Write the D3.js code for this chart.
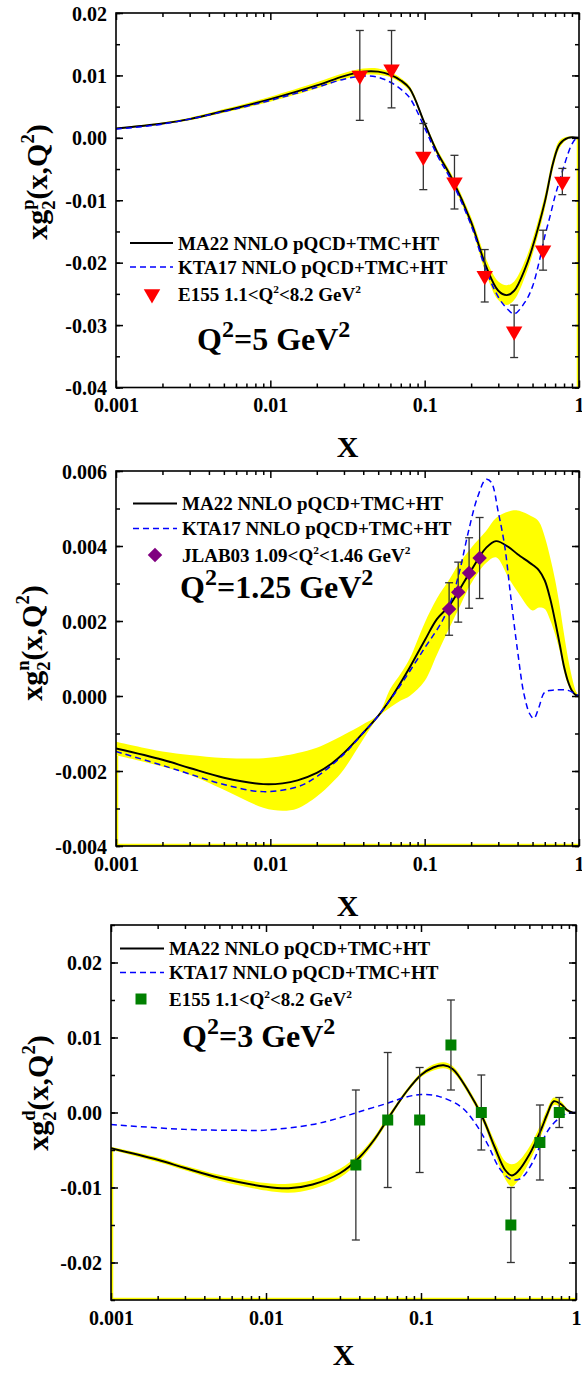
<!DOCTYPE html>
<html>
<head>
<meta charset="utf-8">
<title>xg2 of proton, neutron and deuteron</title>
<script src="https://cdn.jsdelivr.net/npm/d3@7"></script>
<style>
  body { margin: 0; background: #fff; }
  #chart svg { display: block; }
</style>
</head>
<body>
<div id="chart"></div>
<script>
// shared log x axis
const xTicks = [0.001, 0.01, 0.1, 1];
const xTickLabels = ["0.001", "0.01", "0.1", "1"];

// ---- proton, Q2 = 5 GeV2 ----
const pYTicks = [0.02, 0.01, 0, -0.01, -0.02, -0.03, -0.04];
const pYTickLabels = ["0.02", "0.01", "0.00", "-0.01", "-0.02", "-0.03", "-0.04"];
const pCurveX = [0.001, 0.002, 0.003, 0.005, 0.01, 0.02, 0.03, 0.04, 0.05, 0.06, 0.07, 0.08, 0.1, 0.12, 0.15, 0.2, 0.25, 0.3, 0.34, 0.38, 0.45, 0.5, 0.6, 0.68, 0.75, 0.85, 1.0];
const pMA22 = [0.0015, 0.0023, 0.0030, 0.0043, 0.0062, 0.0084, 0.0099, 0.0106, 0.0106, 0.0101, 0.0092, 0.0079, 0.0023, -0.0022, -0.0065, -0.0135, -0.0206, -0.0245, -0.0252, -0.0245, -0.0208, -0.0175, -0.0103, -0.0040, -0.0010, 0.0, 0.0];
const pBandLo = [0.0014, 0.00215, 0.0028, 0.0040, 0.0058, 0.0079, 0.0094, 0.0101, 0.0101, 0.0097, 0.0088, 0.0075, 0.0019, -0.0027, -0.0071, -0.0143, -0.0218, -0.0260, -0.0268, -0.0260, -0.0221, -0.0187, -0.0114, -0.0049, -0.0016, -0.0002, 0.0];
const pBandHi = [0.0016, 0.00245, 0.0032, 0.0046, 0.0066, 0.0089, 0.0104, 0.0111, 0.0111, 0.0105, 0.0096, 0.0083, 0.0027, -0.0017, -0.0059, -0.0127, -0.0194, -0.0230, -0.0236, -0.0230, -0.0195, -0.0163, -0.0092, -0.0031, -0.0004, 0.0002, 0.0];
const pKtaX = [0.001, 0.002, 0.005, 0.01, 0.02, 0.03, 0.04, 0.05, 0.06, 0.07, 0.08, 0.1, 0.12, 0.15, 0.2, 0.25, 0.3, 0.34, 0.38, 0.45, 0.5, 0.55, 0.6, 0.65, 0.7, 0.75, 0.8, 0.85, 0.9, 0.95, 1.0];
const pKTA17 = [0.0014, 0.0022, 0.0042, 0.0060, 0.0081, 0.0094, 0.0099, 0.0097, 0.0089, 0.0078, 0.0064, 0.0016, -0.0027, -0.0070, -0.0140, -0.0212, -0.0255, -0.0273, -0.0282, -0.0262, -0.0238, -0.0200, -0.0158, -0.0125, -0.0093, -0.0068, -0.0045, -0.0025, -0.0010, -0.0002, 0.0];
const pE155X = [0.038, 0.061, 0.098, 0.156, 0.245, 0.38, 0.585, 0.78];
const pE155Y = [0.0100, 0.0110, -0.0030, -0.0071, -0.0221, -0.0310, -0.0180, -0.0070];
const pE155Err = [0.0072, 0.0062, 0.0053, 0.0043, 0.0042, 0.0042, 0.0032, 0.0021];
const pSpill = [[1, 0, 1, -0.04]];

// ---- neutron, Q2 = 1.25 GeV2 ----
const nYTicks = [0.006, 0.004, 0.002, 0, -0.002, -0.004];
const nYTickLabels = ["0.006", "0.004", "0.002", "0.000", "-0.002", "-0.004"];
const nCurveX = [0.001, 0.002, 0.003, 0.005, 0.009, 0.012, 0.015, 0.02, 0.025, 0.03, 0.04, 0.05, 0.06, 0.07, 0.08, 0.1, 0.12, 0.144, 0.165, 0.2, 0.25, 0.29, 0.35, 0.4, 0.5, 0.55, 0.6, 0.65, 0.7, 0.75, 0.8, 0.85, 0.9, 0.95, 1.0];
const nMA22 = [-0.00140, -0.00170, -0.00192, -0.00218, -0.00235, -0.00233, -0.00225, -0.00205, -0.00180, -0.00152, -0.00098, -0.00053, -0.00008, 0.00036, 0.00076, 0.00148, 0.00205, 0.00240, 0.00278, 0.00335, 0.00395, 0.00413, 0.00397, 0.00378, 0.00350, 0.00335, 0.00308, 0.00260, 0.00200, 0.00138, 0.00078, 0.00038, 0.00014, 0.00003, 0.0];
const nBandLo = [-0.00158, -0.00188, -0.00210, -0.00250, -0.00298, -0.00306, -0.00300, -0.00268, -0.00232, -0.00195, -0.00115, -0.00057, -0.00030, -0.00012, 0.00000, 0.00040, 0.00110, 0.00180, 0.00230, 0.00300, 0.00355, 0.00370, 0.00315, 0.00278, 0.00228, 0.00236, 0.00232, 0.00203, 0.00165, 0.00120, 0.00065, 0.00030, 0.00010, 0.00002, 0.0];
const nBandHi = [-0.00122, -0.00148, -0.00157, -0.00165, -0.00166, -0.00160, -0.00152, -0.00138, -0.00120, -0.00103, -0.00075, -0.00049, 0.00020, 0.00060, 0.00100, 0.00195, 0.00260, 0.00310, 0.00350, 0.00395, 0.00440, 0.00475, 0.00492, 0.00495, 0.00478, 0.00465, 0.00425, 0.00370, 0.00310, 0.00240, 0.00165, 0.00100, 0.00050, 0.00015, 0.0];
const nKtaX = [0.001, 0.002, 0.003, 0.005, 0.009, 0.015, 0.02, 0.03, 0.04, 0.05, 0.07, 0.1, 0.13, 0.15, 0.17, 0.19, 0.22, 0.25, 0.27, 0.3, 0.33, 0.36, 0.4, 0.44, 0.48, 0.51, 0.55, 0.6, 0.7, 0.85, 0.95, 1.0];
const nKTA17 = [-0.00148, -0.00185, -0.00208, -0.00236, -0.00255, -0.00242, -0.00215, -0.00155, -0.00098, -0.00053, 0.00030, 0.00128, 0.00200, 0.00260, 0.00340, 0.00430, 0.00530, 0.00578, 0.00570, 0.00490, 0.00400, 0.00270, 0.00120, 0.00005, -0.00048, -0.00060, -0.00030, 0.00010, 0.00016, 0.00015, 0.00005, 0.0];
const nJlabX = [0.144, 0.165, 0.194, 0.227];
const nJlabY = [0.00232, 0.00277, 0.00328, 0.00368];
const nJlabErr = [0.0007, 0.0008, 0.00094, 0.00108];
const nSpill = [[0.001, -0.0016, 0.001, -0.004], [0.001, -0.004, 1, -0.004]];

// ---- deuteron, Q2 = 3 GeV2 ----
const dYTicks = [0.02, 0.01, 0, -0.01, -0.02];
const dYTickLabels = ["0.02", "0.01", "0.00", "-0.01", "-0.02"];
const dCurveX = [0.001, 0.002, 0.003, 0.005, 0.01, 0.014, 0.02, 0.03, 0.04, 0.05, 0.06, 0.07, 0.08, 0.1, 0.12, 0.14, 0.16, 0.2, 0.25, 0.3, 0.35, 0.385, 0.42, 0.5, 0.6, 0.65, 0.72, 0.8, 0.88, 0.95, 1.0];
const dMA22 = [-0.00476, -0.0063, -0.0074, -0.0087, -0.0099, -0.0101, -0.0096, -0.0081, -0.0060, -0.0036, -0.0011, 0.0010, 0.0027, 0.0050, 0.0060, 0.0063, 0.0058, 0.0030, -0.0007, -0.0047, -0.0077, -0.0084, -0.0079, -0.0056, -0.0021, -0.0003, 0.0015, 0.0011, 0.0003, 0.0, 0.0];
const dBandLo = [-0.00496, -0.0066, -0.0077, -0.0091, -0.0104, -0.0107, -0.0102, -0.0087, -0.0065, -0.0040, -0.0015, 0.0007, 0.0024, 0.0047, 0.0056, 0.0059, 0.0054, 0.0026, -0.0012, -0.0055, -0.0089, -0.0099, -0.0092, -0.0066, -0.0029, -0.0010, 0.0010, 0.0007, 0.0001, -0.0001, 0.0];
const dBandHi = [-0.00456, -0.0060, -0.0071, -0.0083, -0.0094, -0.0095, -0.0090, -0.0075, -0.0055, -0.0032, -0.0007, 0.0013, 0.0030, 0.0053, 0.0064, 0.0067, 0.0062, 0.0034, -0.0002, -0.0039, -0.0065, -0.0069, -0.0066, -0.0046, -0.0013, 0.0004, 0.0020, 0.0015, 0.0005, 0.0001, 0.0];
const dKtaX = [0.001, 0.003, 0.007, 0.01, 0.02, 0.03, 0.04, 0.06, 0.08, 0.1, 0.13, 0.18, 0.22, 0.27, 0.32, 0.38, 0.44, 0.52, 0.6, 0.68, 0.78, 0.88, 1.0];
const dKTA17 = [-0.00160, -0.00225, -0.00238, -0.00235, -0.00160, -0.00070, 0.00010, 0.00120, 0.00205, 0.00240, 0.00215, 0.00080, -0.00120, -0.00430, -0.00740, -0.00890, -0.00880, -0.00680, -0.00400, -0.00200, -0.00075, -0.00010, 0.0];
const dE155X = [0.038, 0.061, 0.098, 0.156, 0.245, 0.38, 0.585, 0.78];
const dE155Y = [-0.007, -0.001, -0.001, 0.009, 0.000, -0.015, -0.004, 0.000];
const dE155Err = [0.010, 0.009, 0.007, 0.006, 0.005, 0.005, 0.005, 0.002];
const dSpill = [[0.001, -0.005, 0.001, -0.025], [0.001, -0.025, 1, -0.025]];

// legend / label texts, [text, "sup"|"sub"|"", dx in small-font ems]
const maName = "MA22 NNLO pQCD+TMC+HT";
const ktaName = "KTA17 NNLO pQCD+TMC+HT";
const e155Name = [["E155 1.1<Q"], ["2", "sup"], ["<8.2 GeV"], ["2", "sup"]];
const jlabName = [["JLAB03 1.09<Q"], ["2", "sup"], ["<1.46 GeV"], ["2", "sup"]];

(function() {

    const SERIF = "'Liberation Serif', 'Times New Roman', serif";

    const panels = [
        {
            left: 116, right: 579, top: 13, bottom: 387.5, titleY: 457,
            yDomain: [-0.04, 0.02], yTicks: pYTicks, yTickLabels: pYTickLabels,
            curveX: pCurveX, ma: pMA22, lo: pBandLo, hi: pBandHi,
            ktaX: pKtaX, kta: pKTA17,
            dataX: pE155X, dataY: pE155Y, dataErr: pE155Err, spill: pSpill,
            marker: {type: d3.symbolTriangle, size: 118, rotate: 180, color: "#ff0000"},
            dataName: e155Name,
            legend: {x0: 130, x1: 173, tx: 178, mx: 152, rows: [243, 267, 294]},
            note: {x: 197, y: 350, parts: [["Q"], ["2", "sup"], ["=5 GeV"], ["2", "sup"]]},
            yLabel: {x: 47, y: 182, parts: [["xg"], ["2", "sub"], ["p", "sup", -0.5], ["(x,Q"], ["2", "sup"], [")"]]}
        },
        {
            left: 116, right: 579, top: 471, bottom: 846, titleY: 916,
            yDomain: [-0.004, 0.006], yTicks: nYTicks, yTickLabels: nYTickLabels,
            curveX: nCurveX, ma: nMA22, lo: nBandLo, hi: nBandHi,
            ktaX: nKtaX, kta: nKTA17,
            dataX: nJlabX, dataY: nJlabY, dataErr: nJlabErr, spill: nSpill,
            marker: {type: d3.symbolSquare, size: 105, rotate: 45, color: "#800080"},
            dataName: jlabName,
            legend: {x0: 133, x1: 177, tx: 182, mx: 155, rows: [503.5, 528.5, 555]},
            note: {x: 180, y: 598, parts: [["Q"], ["2", "sup"], ["=1.25 GeV"], ["2", "sup"]]},
            yLabel: {x: 42, y: 643, parts: [["xg"], ["2", "sub"], ["n", "sup", -0.5], ["(x,Q"], ["2", "sup"], [")"]]}
        },
        {
            left: 111, right: 576, top: 925, bottom: 1300, titleY: 1365,
            yDomain: [-0.025, 0.025], yTicks: dYTicks, yTickLabels: dYTickLabels,
            curveX: dCurveX, ma: dMA22, lo: dBandLo, hi: dBandHi,
            ktaX: dKtaX, kta: dKTA17,
            dataX: dE155X, dataY: dE155Y, dataErr: dE155Err, spill: dSpill,
            marker: {type: d3.symbolSquare, size: 121, rotate: 0, color: "#008000"},
            dataName: e155Name,
            legend: {x0: 120, x1: 164, tx: 169, mx: 141, rows: [948.5, 972.5, 999]},
            note: {x: 182, y: 1047, parts: [["Q"], ["2", "sup"], ["=3 GeV"], ["2", "sup"]]},
            yLabel: {x: 48, y: 1093, parts: [["xg"], ["2", "sub"], ["d", "sup", -0.5], ["(x,Q"], ["2", "sup"], [")"]]}
        }
    ];

    window.addEventListener("load", init);

    function init() {
        const svg = d3.select("#chart").append("svg")
            .attr("width", 582)
            .attr("height", 1374)
            .attr("viewBox", [0, 0, 582, 1374])
            .attr("font-family", SERIF)
            .attr("font-weight", "bold");

        svg.append("rect").attr("width", 582).attr("height", 1374).attr("fill", "#fff");

        panels.forEach((p, i) => drawPanel(svg, p, i));
    }

    // writes text with small raised / lowered pieces as tspans
    function richText(sel, parts, size, scale) {
        let level = 0;
        parts.forEach(([t, mode, back]) => {
            const fs = mode ? size * scale : size;
            const target = mode === "sup" ? -size * 0.42 : mode === "sub" ? size * 0.26 : 0;
            const ts = sel.append("tspan")
                .attr("font-size", fs)
                .attr("dy", target - level)
                .text(t);
            if (back) ts.attr("dx", back * fs);
            level = target;
        });
    }

    function drawPanel(svg, p, idx) {
        const x = d3.scaleLog().domain([0.001, 1]).range([p.left, p.right]);
        const y = d3.scaleLinear().domain(p.yDomain).range([p.bottom, p.top]);
        const g = svg.append("g");
        const smooth = d3.curveCatmullRom.alpha(0.5);

        g.append("clipPath").attr("id", "clip" + idx)
          .append("rect")
            .attr("x", p.left).attr("y", p.top)
            .attr("width", p.right - p.left).attr("height", p.bottom - p.top);

        const plot = g.append("g").attr("clip-path", `url(#clip${idx})`);

        // MA22 uncertainty band
        const I = d3.range(p.curveX.length);
        const band = d3.area()
            .curve(smooth)
            .x(i => x(p.curveX[i]))
            .y0(i => y(p.lo[i]))
            .y1(i => y(p.hi[i]));

        plot.append("path")
            .attr("fill", "#ffff00")
            .attr("d", band(I));

        // band fill leaking along the frame
        plot.selectAll("line.spill")
          .data(p.spill)
          .join("line")
            .attr("class", "spill")
            .attr("x1", d => x(d[0])).attr("y1", d => y(d[1]))
            .attr("x2", d => x(d[2])).attr("y2", d => y(d[3]))
            .attr("stroke", "#ffff00")
            .attr("stroke-width", 4.5);

        // MA22 central line
        const maLine = d3.line()
            .curve(smooth)
            .x(i => x(p.curveX[i]))
            .y(i => y(p.ma[i]));

        plot.append("path")
            .attr("fill", "none")
            .attr("stroke", "#000")
            .attr("stroke-width", 1.9)
            .attr("d", maLine(I));

        // KTA17
        const K = d3.range(p.ktaX.length);
        const ktaLine = d3.line()
            .curve(smooth)
            .x(i => x(p.ktaX[i]))
            .y(i => y(p.kta[i]));

        plot.append("path")
            .attr("fill", "none")
            .attr("stroke", "#0000ff")
            .attr("stroke-width", 1.5)
            .attr("stroke-dasharray", "6,4")
            .attr("d", ktaLine(K));

        // data with error bars
        const D = d3.range(p.dataX.length);
        const bars = g.append("g")
            .attr("stroke", "#333")
            .attr("stroke-width", 1.3)
          .selectAll("g")
          .data(D)
          .join("g");

        bars.append("line")
            .attr("x1", i => x(p.dataX[i])).attr("x2", i => x(p.dataX[i]))
            .attr("y1", i => y(p.dataY[i] - p.dataErr[i]))
            .attr("y2", i => y(p.dataY[i] + p.dataErr[i]));
        [-1, 1].forEach(s => {
            bars.append("line")
                .attr("x1", i => x(p.dataX[i]) - 4).attr("x2", i => x(p.dataX[i]) + 4)
                .attr("y1", i => y(p.dataY[i] + s * p.dataErr[i]))
                .attr("y2", i => y(p.dataY[i] + s * p.dataErr[i]));
        });

        const symbol = d3.symbol(p.marker.type, p.marker.size);
        g.append("g")
          .selectAll("path")
          .data(D)
          .join("path")
            .attr("transform", i => `translate(${x(p.dataX[i])},${y(p.dataY[i])}) rotate(${p.marker.rotate})`)
            .attr("fill", p.marker.color)
            .attr("d", symbol);

        // frame
        g.append("rect")
            .attr("x", p.left).attr("y", p.top)
            .attr("width", p.right - p.left).attr("height", p.bottom - p.top)
            .attr("fill", "none")
            .attr("stroke", "#000")
            .attr("stroke-width", 1.6);

        // ticks, all pointing inward
        const minorX = x.ticks().filter(v => Math.abs(Math.log10(v) - Math.round(Math.log10(v))) > 1e-6);
        const minorY = y.ticks(Math.round((p.yDomain[1] - p.yDomain[0]) / (p.yTicks[0] - p.yTicks[1]) * 2));

        const styleAxis = a => {
            a.select(".domain").remove();
            a.selectAll(".tick line").attr("stroke", "#000").attr("stroke-width", 1.5);
            a.attr("font-family", SERIF).attr("font-size", 20);
            a.selectAll("text").attr("fill", "#000").attr("font-weight", "bold");
        };

        g.append("g")
            .attr("transform", `translate(0,${p.bottom})`)
            .call(d3.axisBottom(x).tickValues(xTicks).tickFormat((d, i) => xTickLabels[i]).tickSize(-7))
            .call(styleAxis)
            .call(a => a.selectAll("text").attr("y", 24.5).attr("dy", null));
        g.append("g")
            .attr("transform", `translate(0,${p.bottom})`)
            .call(d3.axisBottom(x).tickValues(minorX).tickFormat("").tickSize(-4))
            .call(styleAxis);
        g.append("g")
            .attr("transform", `translate(0,${p.top})`)
            .call(d3.axisTop(x).tickValues(xTicks).tickFormat("").tickSize(-7))
            .call(styleAxis);
        g.append("g")
            .attr("transform", `translate(0,${p.top})`)
            .call(d3.axisTop(x).tickValues(minorX).tickFormat("").tickSize(-4))
            .call(styleAxis);

        g.append("g")
            .attr("transform", `translate(${p.left},0)`)
            .call(d3.axisLeft(y).tickValues(p.yTicks).tickFormat((d, i) => p.yTickLabels[i]).tickSize(-7).tickPadding(9))
            .call(styleAxis)
            .call(a => a.selectAll("text").attr("dy", "0.35em"));
        g.append("g")
            .attr("transform", `translate(${p.left},0)`)
            .call(d3.axisLeft(y).tickValues(minorY).tickFormat("").tickSize(-4))
            .call(styleAxis);
        g.append("g")
            .attr("transform", `translate(${p.right},0)`)
            .call(d3.axisRight(y).tickValues(p.yTicks).tickFormat("").tickSize(-7))
            .call(styleAxis);
        g.append("g")
            .attr("transform", `translate(${p.right},0)`)
            .call(d3.axisRight(y).tickValues(minorY).tickFormat("").tickSize(-4))
            .call(styleAxis);

        // axis titles
        g.append("text")
            .attr("x", (p.left + p.right) / 2)
            .attr("y", p.titleY)
            .attr("text-anchor", "middle")
            .attr("font-size", 30)
            .text("X");

        g.append("text")
            .attr("transform", `translate(${p.yLabel.x},${p.yLabel.y}) rotate(-90)`)
            .attr("text-anchor", "middle")
            .call(t => richText(t, p.yLabel.parts, 30, 0.62));

        // legend
        const lg = g.append("g");
        lg.append("line")
            .attr("x1", p.legend.x0).attr("x2", p.legend.x1)
            .attr("y1", p.legend.rows[0]).attr("y2", p.legend.rows[0])
            .attr("stroke", "#000").attr("stroke-width", 1.9);
        lg.append("line")
            .attr("x1", p.legend.x0).attr("x2", p.legend.x1)
            .attr("y1", p.legend.rows[1]).attr("y2", p.legend.rows[1])
            .attr("stroke", "#0000ff").attr("stroke-width", 1.5)
            .attr("stroke-dasharray", "6,4");
        lg.append("path")
            .attr("transform", `translate(${p.legend.mx},${p.legend.rows[2]}) rotate(${p.marker.rotate})`)
            .attr("fill", p.marker.color)
            .attr("d", symbol);

        const names = [[[maName]], [[ktaName]], p.dataName];
        names.forEach((parts, r) => {
            lg.append("text")
                .attr("x", p.legend.tx)
                .attr("y", p.legend.rows[r] + 6.5)
                .call(t => richText(t, parts, 19, 0.6));
        });

        // Q2 annotation
        g.append("text")
            .attr("x", p.note.x)
            .attr("y", p.note.y)
            .call(t => richText(t, p.note.parts, 32, 0.75));
    }
})();
</script>
</body>
</html>
